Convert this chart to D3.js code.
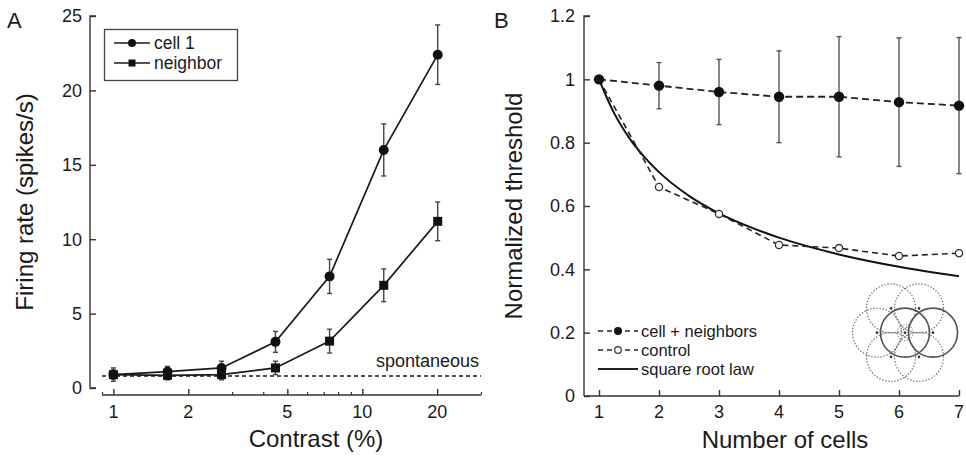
<!DOCTYPE html>
<html>
<head>
<meta charset="utf-8">
<script src="https://cdn.jsdelivr.net/npm/d3@7"></script>
<style>
  html, body { margin: 0; padding: 0; background: #fff; }
  svg { display: block; font-family: "Liberation Sans", Arial, Helvetica, sans-serif; }
</style>
</head>
<body>
<svg id="chart" width="966" height="462"></svg>
<script>
// ---------- Panel A data ----------
const contrast = [1, 1.65, 2.72, 4.48, 7.39, 12.2, 20.1];
const cell1Rate = [0.9, 1.1, 1.35, 3.1, 7.5, 16.0, 22.4];
const cell1Err = [0.45, 0.35, 0.45, 0.7, 1.15, 1.75, 2.0];
const neighborRate = [0.9, 0.85, 0.9, 1.35, 3.15, 6.9, 11.2];
const neighborErr = [0.3, 0.3, 0.35, 0.45, 0.8, 1.1, 1.3];
const spontaneousRate = 0.8;
const aMajorTicks = [1, 2, 5, 10, 20];
const aMinorTicks = [0.9, 3, 4, 6, 7, 8, 9, 30];
const aYTicks = [0, 5, 10, 15, 20, 25];

// ---------- Panel B data ----------
const nCells = [1, 2, 3, 4, 5, 6, 7];
const cellNeighbors = [1.0, 0.98, 0.96, 0.945, 0.945, 0.928, 0.917];
const cellNeighborsErr = [0, 0.073, 0.103, 0.145, 0.19, 0.203, 0.215];
const control = [1.0, 0.66, 0.575, 0.477, 0.467, 0.442, 0.451];
const sqrtLawN = [1, 1.25, 1.5, 1.75, 2, 2.5, 3, 3.5, 4, 5, 6, 7];
const sqrtLaw = [1, 0.894, 0.816, 0.756, 0.707, 0.632, 0.577, 0.535, 0.5, 0.447, 0.408, 0.378];
const bXTicks = [1, 2, 3, 4, 5, 6, 7];
const bYTicks = [0, 0.2, 0.4, 0.6, 0.8, 1, 1.2];

const svg = d3.select("#chart");
const ink = "#1a1a1a";

// ================= PANEL A =================
const xA = d3.scaleLog().domain([0.9, 30]).range([102, 481]);
const yA = d3.scaleLinear().domain([0, 25]).range([388, 16]);
const gA = svg.append("g");

// y axis
const yAxisA = d3.axisRight(yA).tickValues(aYTicks).tickSize(6).tickFormat("");
gA.append("g").attr("transform", "translate(90,0)").call(yAxisA)
  .call(g => g.select(".domain").attr("d", `M6,${yA(0)}H0V${yA(25)}H6`))
  .call(g => g.selectAll("path,line").attr("stroke", "#333").attr("stroke-width", 1.4));
gA.selectAll(".ylabA").data(aYTicks).join("text")
  .attr("x", 82).attr("y", d => yA(d)).attr("dy", "0.36em")
  .attr("text-anchor", "end").attr("font-size", 18).attr("fill", ink).text(d => d);

// x axis
const xAxisA = d3.axisTop(xA).tickValues(aMajorTicks).tickSize(6).tickFormat("");
gA.append("g").attr("transform", "translate(0,395)").call(xAxisA)
  .call(g => g.select(".domain").attr("d", `M${xA.range()[0]},0H${xA.range()[1]}`))
  .call(g => g.selectAll("path,line").attr("stroke", "#333").attr("stroke-width", 1.4));
const xAxisAMinor = d3.axisTop(xA).tickValues(aMinorTicks).tickSize(3).tickFormat("");
gA.append("g").attr("transform", "translate(0,395)").call(xAxisAMinor)
  .call(g => g.select(".domain").remove())
  .call(g => g.selectAll("line").attr("stroke", "#333").attr("stroke-width", 1.2));
gA.selectAll(".xlabA").data(aMajorTicks).join("text")
  .attr("x", d => xA(d)).attr("y", 418)
  .attr("text-anchor", "middle").attr("font-size", 18).attr("fill", ink).text(d => d);

// axis titles
gA.append("text").attr("transform", `translate(33,${(yA(0) + yA(25)) / 2}) rotate(-90)`)
  .attr("text-anchor", "middle").attr("font-size", 24).attr("fill", ink).text("Firing rate (spikes/s)");
gA.append("text").attr("x", 316).attr("y", 447)
  .attr("text-anchor", "middle").attr("font-size", 24).attr("fill", ink).text("Contrast (%)");
svg.append("text").attr("x", 7).attr("y", 28).attr("font-size", 22).attr("fill", ink).text("A");

// spontaneous line
gA.append("line").attr("x1", xA.range()[0]).attr("x2", xA.range()[1])
  .attr("y1", yA(spontaneousRate)).attr("y2", yA(spontaneousRate))
  .attr("stroke", ink).attr("stroke-width", 1.5).attr("stroke-dasharray", "4,3");
gA.append("text").attr("x", 479).attr("y", 367).attr("text-anchor", "end")
  .attr("font-size", 18).attr("fill", ink).text("spontaneous");

function errorBars(g, xs, ys, es, xScale, yScale, color, cap) {
  const data = xs.map((x, i) => ({ x, y: ys[i], e: es[i] })).filter(d => d.e > 0);
  g.selectAll(null).data(data).join("line")
    .attr("x1", d => xScale(d.x)).attr("x2", d => xScale(d.x))
    .attr("y1", d => yScale(d.y - d.e)).attr("y2", d => yScale(d.y + d.e))
    .attr("stroke", color).attr("stroke-width", 1.4);
  [1, -1].forEach(s => {
    g.selectAll(null).data(data).join("line")
      .attr("x1", d => xScale(d.x) - cap).attr("x2", d => xScale(d.x) + cap)
      .attr("y1", d => yScale(d.y + s * d.e)).attr("y2", d => yScale(d.y + s * d.e))
      .attr("stroke", color).attr("stroke-width", 1.4);
  });
}

errorBars(gA, contrast, cell1Rate, cell1Err, xA, yA, "#444", 2.5);
errorBars(gA, contrast, neighborRate, neighborErr, xA, yA, "#444", 2.5);

const lineA = d3.line().x(d => xA(d[0])).y(d => yA(d[1]));
gA.append("path").datum(contrast.map((c, i) => [c, cell1Rate[i]]))
  .attr("d", lineA).attr("fill", "none").attr("stroke", ink).attr("stroke-width", 1.7);
gA.append("path").datum(contrast.map((c, i) => [c, neighborRate[i]]))
  .attr("d", lineA).attr("fill", "none").attr("stroke", ink).attr("stroke-width", 1.7);

gA.selectAll(".c1").data(contrast).join("circle")
  .attr("cx", d => xA(d)).attr("cy", (d, i) => yA(cell1Rate[i])).attr("r", 5).attr("fill", "#111");
gA.selectAll(".nb").data(contrast).join("rect")
  .attr("x", d => xA(d) - 4.5).attr("y", (d, i) => yA(neighborRate[i]) - 4.5)
  .attr("width", 9).attr("height", 9).attr("fill", "#111");

// legend A
const legA = gA.append("g");
legA.append("rect").attr("x", 104.5).attr("y", 29.5).attr("width", 133).attr("height", 51)
  .attr("fill", "#fff").attr("stroke", "#444").attr("stroke-width", 1.3);
[["cell 1", "circle", 43], ["neighbor", "square", 63]].forEach(([label, shape, y]) => {
  legA.append("line").attr("x1", 114).attr("x2", 150).attr("y1", y).attr("y2", y)
    .attr("stroke", ink).attr("stroke-width", 1.5);
  if (shape === "circle") legA.append("circle").attr("cx", 132).attr("cy", y).attr("r", 4).attr("fill", "#111");
  else legA.append("rect").attr("x", 128.5).attr("y", y - 3.5).attr("width", 7).attr("height", 7).attr("fill", "#111");
  legA.append("text").attr("x", 154).attr("y", y).attr("dy", "0.35em")
    .attr("font-size", 17.5).attr("fill", ink).text(label);
});

// ================= PANEL B =================
const xB = d3.scaleLinear().domain([0.75, 7]).range([584, 959]);
const yB = d3.scaleLinear().domain([0, 1.2]).range([396, 16]);
const gB = svg.append("g");

gB.append("g").attr("transform", "translate(584,0)")
  .call(d3.axisRight(yB).tickValues(bYTicks).tickSize(6).tickFormat(""))
  .call(g => g.select(".domain").attr("d", `M0,${yB(0)}V${yB(1.2)}H6`))
  .call(g => g.selectAll("path,line").attr("stroke", "#333").attr("stroke-width", 1.4));
gB.selectAll(".ylabB").data(bYTicks).join("text")
  .attr("x", 575).attr("y", d => yB(d)).attr("dy", "0.36em")
  .attr("text-anchor", "end").attr("font-size", 18).attr("fill", ink).text(d => d3.format("~g")(d));

gB.append("g").attr("transform", "translate(0,396)")
  .call(d3.axisTop(xB).tickValues(bXTicks).tickSize(6).tickFormat(""))
  .call(g => g.select(".domain").attr("d", `M${xB.range()[0]},0H${xB.range()[1]}`))
  .call(g => g.selectAll("path,line").attr("stroke", "#333").attr("stroke-width", 1.4));
gB.selectAll(".xlabB").data(bXTicks).join("text")
  .attr("x", d => xB(d)).attr("y", 418)
  .attr("text-anchor", "middle").attr("font-size", 18).attr("fill", ink).text(d => d);

gB.append("text").attr("transform", `translate(522,${(yB(0) + yB(1.2)) / 2}) rotate(-90)`)
  .attr("text-anchor", "middle").attr("font-size", 24).attr("fill", ink).text("Normalized threshold");
gB.append("text").attr("x", 785).attr("y", 448)
  .attr("text-anchor", "middle").attr("font-size", 24).attr("fill", ink).text("Number of cells");
svg.append("text").attr("x", 494).attr("y", 28).attr("font-size", 22).attr("fill", ink).text("B");

// inset diagram (hexagonal receptive-field layout)
const inset = gB.append("g").attr("transform", `translate(${xB(6.1)},${yB(0.2)})`);
const spacing = 28, rf = 24.5;
const neigh = d3.range(6).map(k => [spacing * Math.cos(k * Math.PI / 3), -spacing * Math.sin(k * Math.PI / 3)]);
neigh.forEach((p, k) => {
  if (k === 0) return;
  inset.append("circle").attr("cx", p[0]).attr("cy", p[1]).attr("r", rf)
    .attr("fill", "none").attr("stroke", "#777").attr("stroke-width", 1.5)
    .attr("stroke-dasharray", "0.1,3").attr("stroke-linecap", "round");
  inset.append("line").attr("x1", 0).attr("y1", 0).attr("x2", p[0]).attr("y2", p[1])
    .attr("stroke", "#888").attr("stroke-width", 1.2)
    .attr("stroke-dasharray", "0.1,3").attr("stroke-linecap", "round");
});
inset.append("line").attr("x1", 0).attr("y1", 0).attr("x2", neigh[0][0]).attr("y2", 0)
  .attr("stroke", "#888").attr("stroke-width", 1.2).attr("stroke-dasharray", "0.1,3").attr("stroke-linecap", "round");
inset.append("circle").attr("r", 8).attr("fill", "none").attr("stroke", "#888").attr("stroke-width", 1.1)
  .attr("stroke-dasharray", "0.1,2.5").attr("stroke-linecap", "round");
inset.append("circle").attr("cx", 0).attr("cy", 0).attr("r", rf)
  .attr("fill", "none").attr("stroke", "#555").attr("stroke-width", 1.6);
inset.append("circle").attr("cx", neigh[0][0]).attr("cy", neigh[0][1]).attr("r", rf)
  .attr("fill", "none").attr("stroke", "#555").attr("stroke-width", 1.6);
[[0, 0]].concat(neigh).forEach(p => {
  inset.append("circle").attr("cx", p[0]).attr("cy", p[1]).attr("r", 1.3).attr("fill", "#333");
});

// error bars B
errorBars(gB, nCells, cellNeighbors, cellNeighborsErr, xB, yB, "#555", 2.5);

const lineB = d3.line().x(d => xB(d[0])).y(d => yB(d[1]));
gB.append("path").datum(sqrtLawN.map((n, i) => [n, sqrtLaw[i]]))
  .attr("d", lineB.curve(d3.curveMonotoneX)).attr("fill", "none").attr("stroke", "#111").attr("stroke-width", 2);
const lineB2 = d3.line().x(d => xB(d[0])).y(d => yB(d[1]));
gB.append("path").datum(nCells.map((n, i) => [n, control[i]]))
  .attr("d", lineB2).attr("fill", "none").attr("stroke", "#222").attr("stroke-width", 1.6)
  .attr("stroke-dasharray", "6,4");
gB.append("path").datum(nCells.map((n, i) => [n, cellNeighbors[i]]))
  .attr("d", lineB2).attr("fill", "none").attr("stroke", "#222").attr("stroke-width", 1.8)
  .attr("stroke-dasharray", "7,4");

gB.selectAll(".ctl").data(nCells).join("circle")
  .attr("cx", d => xB(d)).attr("cy", (d, i) => yB(control[i])).attr("r", 3.6)
  .attr("fill", "#fff").attr("stroke", "#333").attr("stroke-width", 1.3);
gB.selectAll(".cn").data(nCells).join("circle")
  .attr("cx", d => xB(d)).attr("cy", (d, i) => yB(cellNeighbors[i])).attr("r", 5.2).attr("fill", "#111");

// legend B
const legB = gB.append("g");
[["cell + neighbors", "filled", 331], ["control", "open", 350], ["square root law", "solid", 369]].forEach(([label, kind, y]) => {
  legB.append("line").attr("x1", 598).attr("x2", 638).attr("y1", y).attr("y2", y)
    .attr("stroke", "#222").attr("stroke-width", kind === "solid" ? 2 : 1.6)
    .attr("stroke-dasharray", kind === "solid" ? null : "5,4");
  if (kind === "filled") legB.append("circle").attr("cx", 618).attr("cy", y).attr("r", 4).attr("fill", "#111");
  if (kind === "open") legB.append("circle").attr("cx", 618).attr("cy", y).attr("r", 3.3)
    .attr("fill", "#fff").attr("stroke", "#333").attr("stroke-width", 1.2);
  legB.append("text").attr("x", 641).attr("y", y).attr("dy", "0.35em")
    .attr("font-size", 16.5).attr("fill", ink).text(label);
});
</script>
</body>
</html>
